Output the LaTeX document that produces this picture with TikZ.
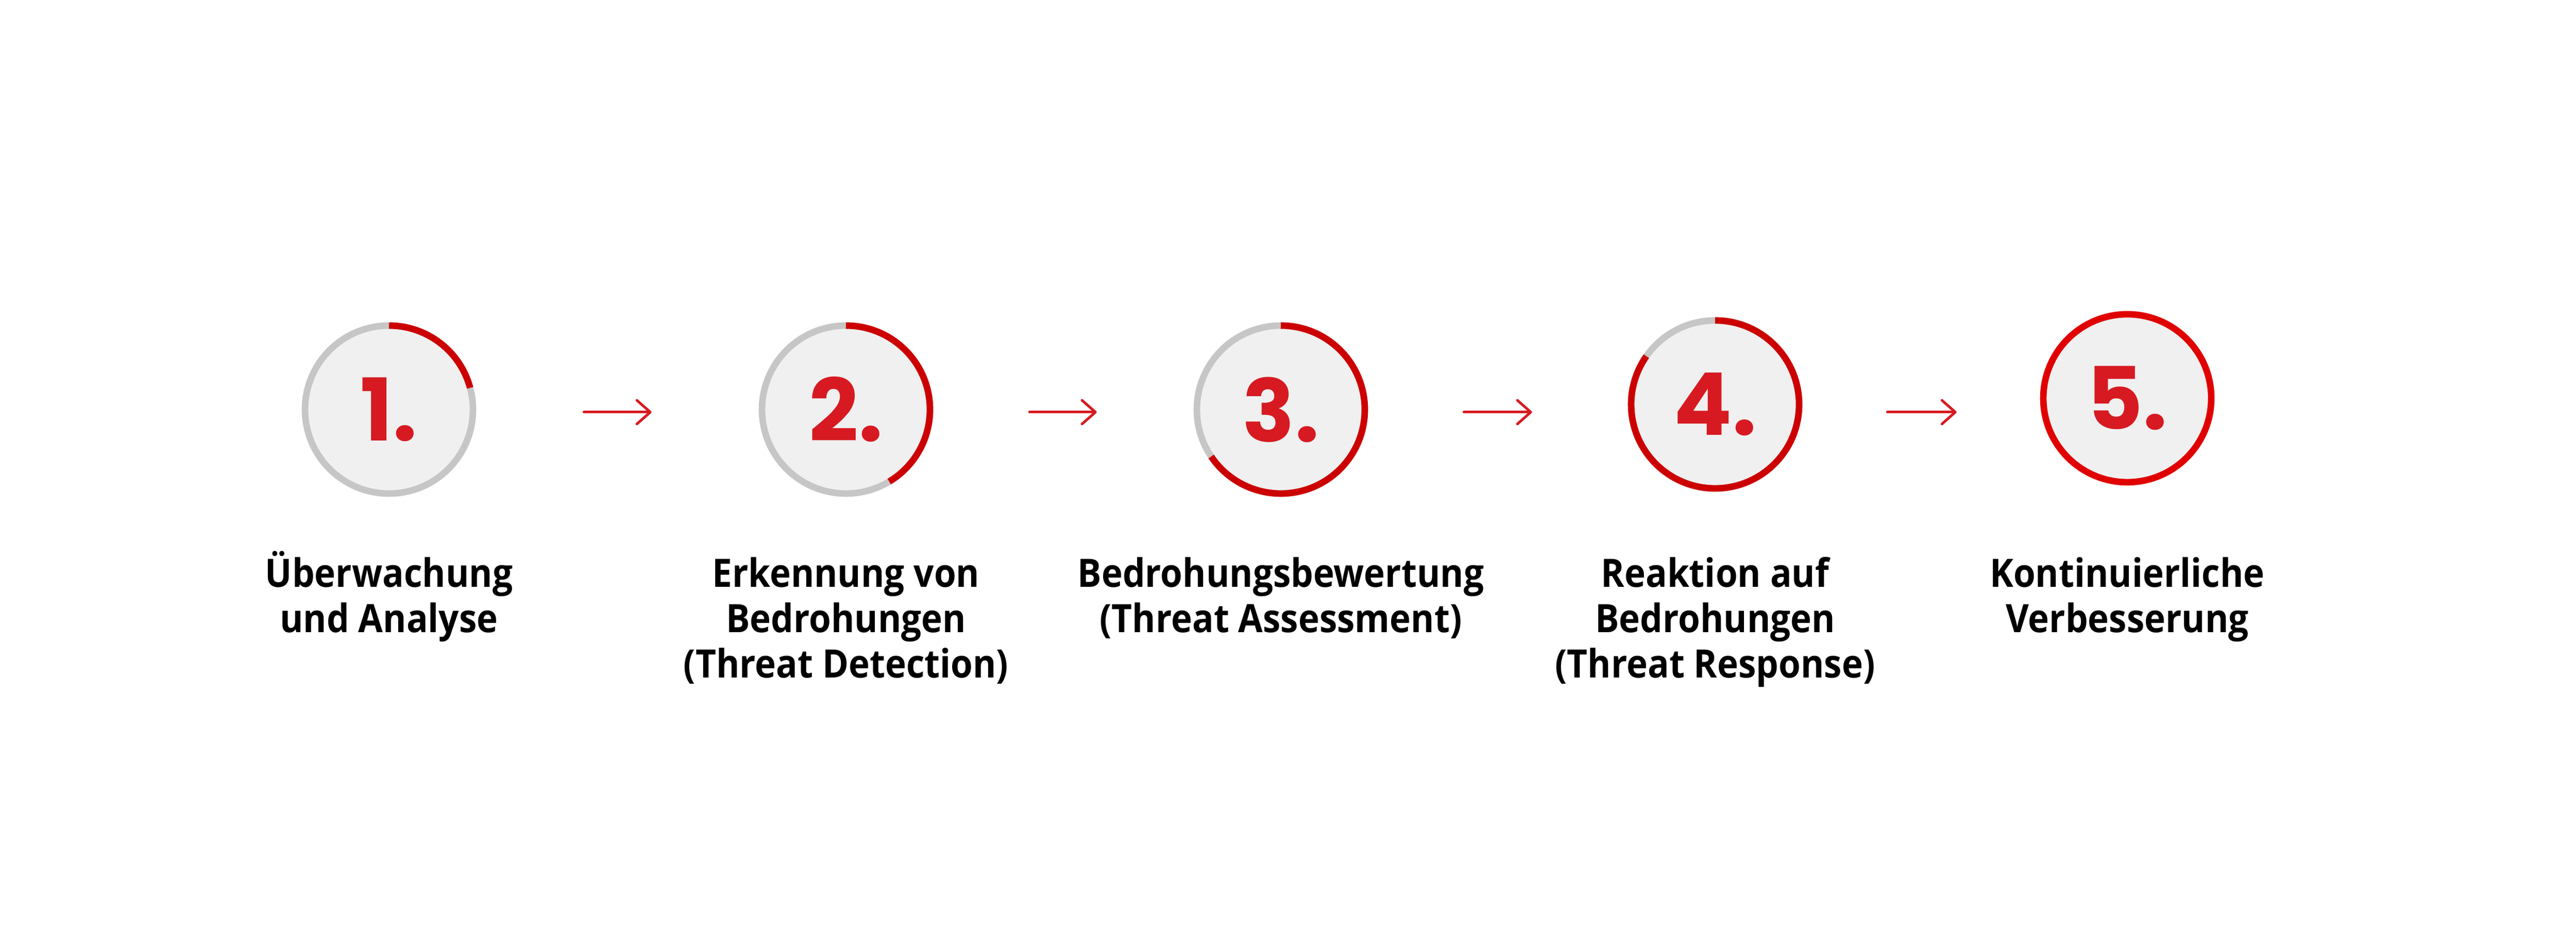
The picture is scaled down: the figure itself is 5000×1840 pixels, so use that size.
\documentclass[tikz,border=0pt]{standalone}
\usepackage{fontspec}
\usetikzlibrary{positioning,arrows.meta}
\newfontfamily\labelfont{Open Sans}[FakeStretch=0.91]
\newfontfamily\numfont{Poppins}
\definecolor{ringgrey}{HTML}{C6C6C6}
\definecolor{ringfill}{HTML}{F0F0F0}
\definecolor{ringred}{HTML}{CC0000}
\definecolor{fullred}{HTML}{E00000}
\definecolor{numred}{HTML}{D71A21}
% same top for every first line
\newcommand\captop{\vphantom{Ü}}
\tikzset{
  stage/.style={circle, draw=ringgrey, fill=ringfill, line width=1.27pt, minimum size=32.6pt, inner sep=0pt, text=numred, font=\numfont\bfseries\fontsize{16.8}{18}\selectfont},
  progress/.style={draw=ringred, line width=1.27pt},
  steptext/.style={font=\labelfont\bfseries\fontsize{7.6}{8.8}\selectfont, align=center, inner sep=0pt, anchor=north},
  flow/.style={draw=numred, line width=0.5pt, line cap=round, -{Straight Barb[length=2.6pt,width=4.6pt,round]}}
}
\begin{document}
\begin{tikzpicture}[x=0.1pt,y=0.1pt]
\path[fill=white] (0,0) rectangle (5000,1840);

%Shape: Circles
\node[stage] (c1) at (755,1045) {1.};
\node[stage] (c2) at (1642,1045) {2.};
\node[stage] (c3) at (2486,1045) {3.};
\node[stage] (c4) at (3329,1055) {4.};
\node[stage, draw=fullred] (c5) at (4129,1067) {5.};

%Arcs: progress
\draw[progress] (c1.center) ++(90:163) arc[start angle=90, end angle=15, radius=163];
\draw[progress] (c2.center) ++(90:163) arc[start angle=90, end angle=-59, radius=163];
\draw[progress] (c3.center) ++(90:163) arc[start angle=90, end angle=-146, radius=163];
\draw[progress] (c4.center) ++(90:163) arc[start angle=90, end angle=-215, radius=163];

%Arrows
\coordinate (lane) at (0,1040);
\draw[flow, shorten <=20.9pt, shorten >=20.8pt] (c1.east |- lane) -- (c2.west |- lane);
\draw[flow, shorten <=18.7pt, shorten >=18.8pt] (c2.east |- lane) -- (c3.west |- lane);
\draw[flow, shorten <=18.6pt, shorten >=18.6pt] (c3.east |- lane) -- (c4.west |- lane);
\draw[flow, shorten <=16.5pt, shorten >=16.2pt] (c4.east |- lane) -- (c5.west |- lane);

% Text Nodes
\node[steptext, below=10.4pt of c1] (t1) {\captop Überwachung\\und Analyse};
\node[steptext] (t2) at (c2 |- t1.north) {\captop Erkennung von\\Bedrohungen\\(Threat Detection)};
\node[steptext] (t3) at (c3 |- t1.north) {\captop Bedrohungsbewertung\\(Threat Assessment)};
\node[steptext] (t4) at (c4 |- t1.north) {\captop Reaktion auf\\Bedrohungen\\(Threat Response)};
\node[steptext] (t5) at (c5 |- t1.north) {\captop Kontinuierliche\\Verbesserung};

\end{tikzpicture}
\end{document}
